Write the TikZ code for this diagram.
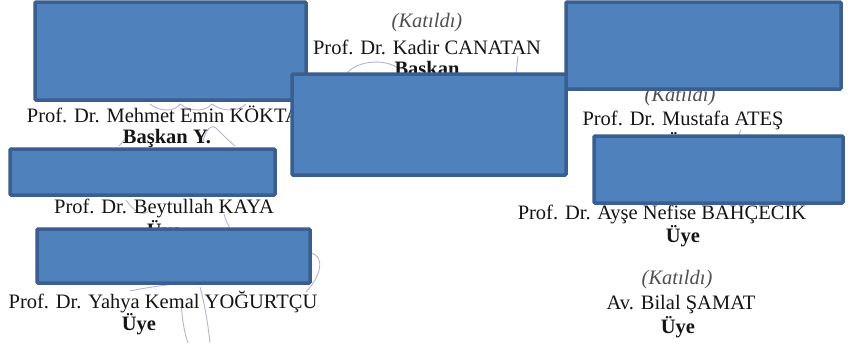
\documentclass[tikz,border=0pt]{standalone}
\usepackage{fontspec}
\setmainfont{Liberation Serif}
\definecolor{boxfill}{HTML}{4F81BD}
\definecolor{boxline}{HTML}{3A5F8E}
\definecolor{ink}{HTML}{151515}
\definecolor{pen}{HTML}{7E72BE}
\begin{document}
\begin{tikzpicture}[x=1pt,y=-1pt,
    person/.style={text=ink,inner sep=0pt,font=\fontsize{20.5}{24}\selectfont},
    role/.style={person,font=\fontsize{20.5}{24}\selectfont\bfseries},
    note/.style={person,font=\fontsize{20.5}{24}\selectfont\itshape,text=ink!75},
    sig/.style={draw=pen,opacity=0.55,line width=0.9pt},
    redact/.style={fill=boxfill,draw=boxline,line width=3.5pt,rounded corners=1pt}]
    \useasboundingbox[fill=white] (0,0) rectangle (859,343);
    % signatures (faint pen strokes)
    \draw[sig] (347,73) .. controls (358,60) and (388,58) .. (400,70);
    \draw[sig] (518,56) -- (516,74);
    \draw[sig] (150,104) .. controls (160,112) and (175,112) .. (180,104) .. controls (190,112) and (205,112) .. (212,104) .. controls (222,112) and (238,112) .. (246,104);
    \draw[sig] (203,142) .. controls (205,130) and (212,122) .. (218,130) .. controls (224,136) and (230,142) .. (235,146);
    \draw[sig] (119,146) -- (127,137);
    \draw[sig] (126,200) .. controls (133,210) and (140,216) .. (148,212);
    \draw[sig] (224,214) .. controls (226,222) and (230,228) .. (232,233);
    \draw[sig] (310,253) .. controls (325,255) and (322,275) .. (306,292);
    \draw[sig] (130,291) .. controls (150,287) and (170,284) .. (188,283);
    \draw[sig] (181,300) .. controls (182,318) and (184,332) .. (188,343);
    \draw[sig] (200,287) .. controls (205,305) and (208,325) .. (210,343);
    \draw[sig] (741,130) -- (738,137);
    % center column
    \node[note] (kat1) at (427,23) {(Katıldı)};
    \node[person] (canatan) at (427,47) {Prof. Dr. Kadir CANATAN};
    \node[role] (baskan) at (427,70) {Başkan};
    % left column
    \node[person] (koktas) at (169,116) {Prof. Dr. Mehmet Emin KÖKTAŞ};
    \node[role] (baskany) at (167,138) {Başkan Y.};
    \node[person] (kaya) at (164,208) {Prof. Dr. Beytullah KAYA};
    \node[role] (uye1) at (164,231) {Üye};
    \node[person] (yogurtcu) at (163,302) {Prof. Dr. Yahya Kemal YOĞURTÇU};
    \node[role] (uye2) at (139,324) {Üye};
    % right column
    \node[note] (kat2) at (680,97) {(Katıldı)};
    \node[person] (ates) at (683,120) {Prof. Dr. Mustafa ATEŞ};
    \node[role] (uye3) at (683,143) {Üye};
    \node[person] (bahcecik) at (662,213) {Prof. Dr. Ayşe Nefise BAHÇECİK};
    \node[role] (uye4) at (683,236) {Üye};
    \node[note] (kat3) at (677,280) {(Katıldı)};
    \node[person] (samat) at (681,305) {Av. Bilal ŞAMAT};
    \node[role] (uye5) at (678,327) {Üye};
    % boxes over the signatures
    \draw[redact] (35,2) rectangle (306,100);
    \draw[redact] (566,2) rectangle (841,89);
    \draw[redact] (292,74) rectangle (566,175);
    \draw[redact] (10,149) rectangle (275,195);
    \draw[redact] (594,136) rectangle (843,203);
    \draw[redact] (37,229) rectangle (310,283);
\end{tikzpicture}
\end{document}
